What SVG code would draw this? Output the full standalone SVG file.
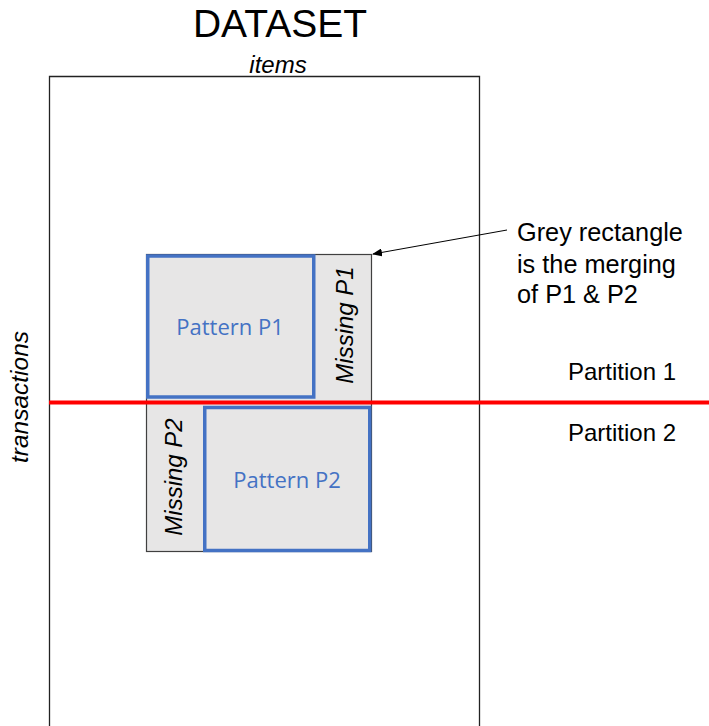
<svg xmlns="http://www.w3.org/2000/svg" width="709" height="726" viewBox="0 0 709 726">
  <style>
    .lbl { font-family: "Liberation Sans", Arial, sans-serif; fill: #000; }
    .ital { font-style: italic; }
    .pat { font-family: "Open Sans", "Liberation Sans", sans-serif; fill: #4472C4; font-size: 22px; text-anchor: middle; }
    .blue { fill: #E7E6E6; stroke: #4472C4; stroke-width: 3.5; }
  </style>
  <defs>
    <marker id="arrow" markerWidth="10" markerHeight="8" refX="9" refY="4" orient="auto" markerUnits="userSpaceOnUse">
      <path d="M0,0 L10,4 L0,8 Z" fill="#000"/>
    </marker>
  </defs>

  <rect width="709" height="726" fill="#fff"/>

  <!-- dataset frame, open at the bottom -->
  <g id="dataset">
    <path d="M49.5,726 V76.5 H479.5 V726" fill="none" stroke="#222" stroke-width="1.3"/>
    <text class="lbl" x="280" y="37" font-size="39" text-anchor="middle">DATASET</text>
    <text class="lbl ital" x="278" y="73" font-size="24" text-anchor="middle">items</text>
    <text class="lbl ital" font-size="24.5" text-anchor="middle" transform="translate(28,397) rotate(-90)">transactions</text>
  </g>

  <!-- merged grey rectangle -->
  <g id="merged">
    <rect x="146.5" y="254.5" width="225" height="297" fill="#E7E6E6" stroke="#404040" stroke-width="1.2"/>
  </g>

  <g id="pattern-p1">
    <rect class="blue" x="147.75" y="256" width="166" height="141"/>
    <text class="pat" x="230" y="335">Pattern P1</text>
  </g>

  <g id="missing-p1">
    <text class="lbl ital" font-size="24" text-anchor="middle" transform="translate(353,325) rotate(-90)">Missing P1</text>
  </g>

  <g id="pattern-p2">
    <rect class="blue" x="204.75" y="407.5" width="165" height="143"/>
    <text class="pat" x="287" y="488">Pattern P2</text>
  </g>

  <g id="missing-p2">
    <text class="lbl ital" font-size="24" text-anchor="middle" transform="translate(181.5,477) rotate(-90)">Missing P2</text>
  </g>

  <g id="partitions">
    <text class="lbl" x="568" y="380" font-size="24">Partition 1</text>
    <text class="lbl" x="568" y="441" font-size="24">Partition 2</text>
  </g>

  <g id="note">
    <text class="lbl" x="517" y="241" font-size="25.3">Grey rectangle</text>
    <text class="lbl" x="517" y="273" font-size="25.3">is the merging</text>
    <text class="lbl" x="517" y="303" font-size="25.3">of P1 &amp; P2</text>
  </g>

  <g id="connectors">
    <line x1="49" y1="402.5" x2="709" y2="402.5" stroke="#FF0000" stroke-width="4"/>
    <line x1="507" y1="230" x2="373" y2="254" stroke="#000" stroke-width="1" marker-end="url(#arrow)"/>
  </g>
</svg>
